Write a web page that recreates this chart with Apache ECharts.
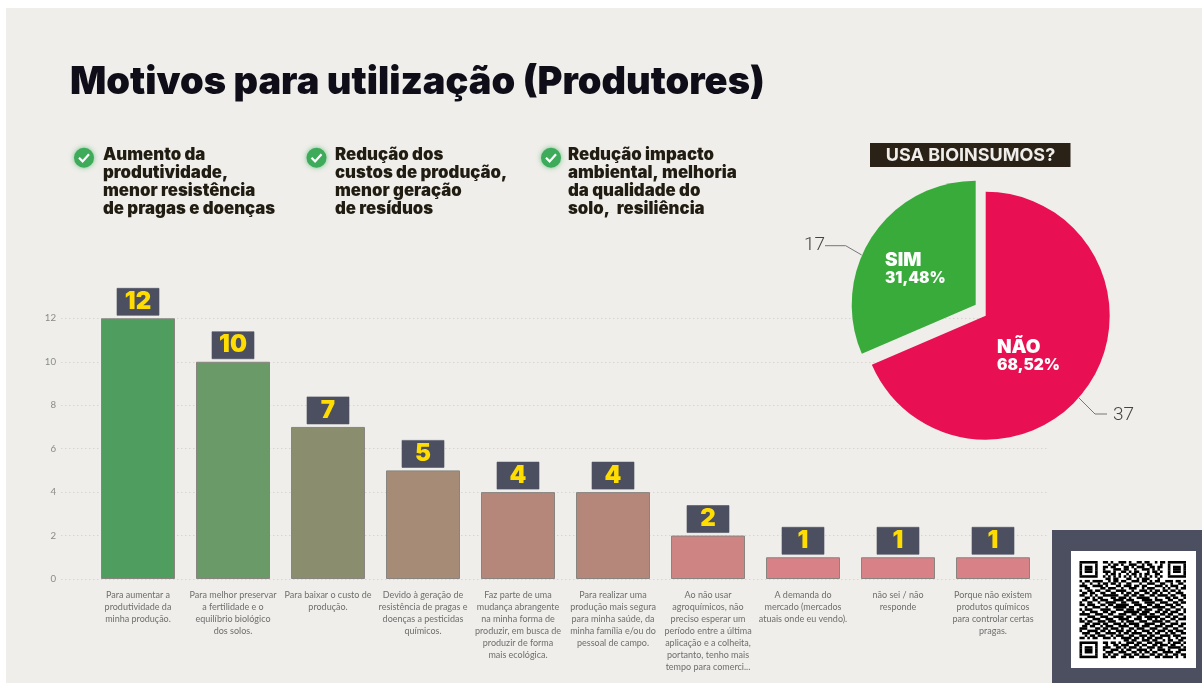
<!DOCTYPE html>
<html>
<head>
<meta charset="utf-8">
<style>html,body{margin:0;padding:0;background:#fff}#c{width:1202px;height:683px}</style>
<script src="https://cdn.jsdelivr.net/npm/echarts@6/dist/echarts.min.js"></script>
</head>
<body>
<div id="c"></div>
<script>
const titleText = 'Motivos para utilização (Produtores)';
const bulletTexts = [
  'Aumento da\nprodutividade,\nmenor resistência\nde pragas e doenças',
  'Redução dos\ncustos de produção,\nmenor geração\nde resíduos',
  'Redução impacto\nambiental, melhoria\nda qualidade do\nsolo,  resiliência'
];
const categories = [
  'Para aumentar a\nprodutividade da\nminha produção.',
  'Para melhor preservar\na fertilidade e o\nequilíbrio biológico\ndos solos.',
  'Para baixar o custo de\nprodução.',
  'Devido à geração de\nresistência de pragas e\ndoenças a pesticidas\nquímicos.',
  'Faz parte de uma\nmudança abrangente\nna minha forma de\nproduzir, em busca de\nproduzir de forma\nmais ecológica.',
  'Para realizar uma\nprodução mais segura\npara minha saúde, da\nminha família e/ou do\npessoal de campo.',
  'Ao não usar\nagroquímicos, não\npreciso esperar um\nperíodo entre a última\naplicação e a colheita,\nportanto, tenho mais\ntempo para comerci...',
  'A demanda do\nmercado (mercados\natuais onde eu vendo).',
  'não sei / não\nresponde',
  'Porque não existem\nprodutos químicos\npara controlar certas\npragas.'
];
const counts = [12, 10, 7, 5, 4, 4, 2, 1, 1, 1];
const barColors = ['#4F9E60','#6B9A69','#8B8E6E','#A68C76','#B5877A','#B5877A','#CD8483','#D88288','#D88288','#D88288'];
const yTicks = [0, 2, 4, 6, 8, 10, 12];
const pieNames = ['NÃO', 'SIM'];
const pieValues = [37, 17];
const piePercents = ['68,52%', '31,48%'];
const pieColors = ['#E81052', '#38AB3A'];
const pieTitle = 'USA BIOINSUMOS?';

const qrTop = [
 '0110100111010011011001011',
 '0001011010011100101100010',
 '0110110001101011100110110',
 '0100011101100100111010100',
 '0111010011010110001011010',
 '0010110100101101011001100',
 '0101010101010101010101010',
 '0011011000110010111000100'
];
const qrMiddle = [
 '10110111100101101100111011010110011101101',
 '01001001011011010011000100111001100100110',
 '11100111101000110111011011000111010111001',
 '00110000110111001001110010111000101001011',
 '10011011001100111100100111010110110110100',
 '01101100110011001011011001101101001001110',
 '11001010011111100110110110011011110110011',
 '00110101100011011101001111100100011011001',
 '01100110111001111011100011110111001100110',
 '10011001001111001100111001111001110011011',
 '11011100110110111110011100110110011101100',
 '00100111001001111101100111001111100110010',
 '10111000111100111011101101110011011001101',
 '01001110011011000111111011100110110111001',
 '11110011100110011100110111011001101100110',
 '00011100111001111011001101111110011011001',
 '10100111001110011110011100110101100110111',
 '11011001110111001011100111001111011001000',
 '00110111011001110101111001111001100111011',
 '01101100101110011110011011100111011100110',
 '11100011011011101001101110011100110011001',
 '10011110110100111011010011101011101101110',
 '01110011001111010110111100110110010110011',
 '00101101110010111001100111011001111011100',
 '11010110011101001111011010110111001001011'
];
const qrBottom = [
 '0000000001101100111011001011001101',
 '0110110100111011001101110010111010',
 '0010011011100110110011011101100101',
 '0111001101011101001110110011111011',
 '0100111010110011110100111010001110',
 '0011100111001101011011001111011001',
 '0101011001110110100110110100110110',
 '0110110011011001111001101111010011'
];
const finder = ['1111111','1000001','1011101','1011101','1011101','1000001','1111111','0000000'];
const qrRows = [];
for (let i = 0; i < 8; i++) qrRows.push(finder[i] + '0' + qrTop[i] + '0' + finder[i]);
qrMiddle.forEach(r => qrRows.push(r));
for (let i = 0; i < 8; i++) qrRows.push(finder[7 - i] + '0' + qrBottom[i]);

function qrChildren(x0, y0, w, h) {
  const mw = w / 41, mh = h / 41, out = [];
  qrRows.forEach((row, r) => {
    let c = 0;
    while (c < 41) {
      if (row[c] === '1') {
        let e = c;
        while (e + 1 < 41 && row[e + 1] === '1') e++;
        out.push({type:'rect', silent:true, z:22, shape:{x:x0 + c * mw, y:y0 + r * mh, width:(e - c + 1) * mw, height:mh + 0.2}, style:{fill:'#000'}});
        c = e + 1;
      } else c++;
    }
  });
  return out;
}

const headingFont = 'Inter';
const bullets = [[84, 103], [316.5, 335], [551, 568]];
const graphics = [
  {type:'rect', z:-10, silent:true, shape:{x:6, y:8, width:1196, height:675}, style:{fill:'#EFEEEA'}},
  {type:'text', z:10, silent:true, x:70, y:83, style:{text:titleText, fill:'#0E0D18', font:'900 38px ' + headingFont, verticalAlign:'middle'}}
];
bullets.forEach((b, i) => {
  graphics.push({type:'circle', z:10, silent:true, shape:{cx:b[0], cy:157.7, r:10}, style:{fill:'#3DAB5A', shadowBlur:5, shadowColor:'rgba(60,170,90,0.7)'}});
  graphics.push({type:'polyline', z:10, silent:true, shape:{points:[[b[0]-5,157.8],[b[0]-1.4,161.4],[b[0]+5,154.2]]}, style:{stroke:'#fff', lineWidth:2.2, fill:null}});
  graphics.push({type:'text', z:10, silent:true, x:b[1], y:145.5, style:{text:bulletTexts[i], fill:'#211C12', font:'900 16.8px ' + headingFont, lineHeight:18, verticalAlign:'top'}});
});
graphics.push(
  {type:'rect', z:10, silent:true, shape:{x:870, y:143, width:200.5, height:24}, style:{fill:'#2A2117'}},
  {type:'text', z:11, silent:true, x:970.5, y:155.5, style:{text:pieTitle, fill:'#EFEEEA', font:'700 18px ' + headingFont, align:'center', verticalAlign:'middle'}},
  {type:'polyline', z:10, silent:true, shape:{points:[[825,245.7],[845.7,245.7],[861.7,255]]}, style:{stroke:'#777', lineWidth:1, fill:null}},
  {type:'polyline', z:10, silent:true, shape:{points:[[1079,398],[1095,414],[1107,414]]}, style:{stroke:'#777', lineWidth:1, fill:null}},
  {type:'rect', z:20, silent:true, shape:{x:1052, y:530, width:150, height:153}, style:{fill:'#4B4F60'}},
  {type:'rect', z:21, silent:true, shape:{x:1071, y:551, width:125, height:117}, style:{fill:'#fff'}},
  {type:'group', z:22, silent:true, children:qrChildren(1079.5, 561, 106.5, 97)}
);

const piePlace = [[997, 356], [885, 269]];
const pieCenters = [[985.7, 315.7], [975.7, 304.7]];
const valuePlace = [[1113, 415], [804, 245]];

function sliceSeries(idx) {
  return {
    type:'pie', z:5, center:pieCenters[idx], radius:[0, 124], startAngle:90, silent:true,
    animation:false, avoidLabelOverlap:false,
    labelLine:{show:false},
    labelLayout:() => ({x:piePlace[idx][0], y:piePlace[idx][1], align:'left', verticalAlign:'middle'}),
    data: pieValues.map((v, i) => ({
      name:pieNames[i], value:v,
      itemStyle:{color: i === idx ? pieColors[i] : 'rgba(0,0,0,0)'},
      label: i === idx ? {
        show:true, position:'inside',
        formatter:'{a|' + pieNames[i] + '}\n{b|' + piePercents[i] + '}',
        rich:{
          a:{fontFamily:headingFont, fontWeight:900, fontSize:19, color:'#fff', lineHeight:18, align:'left'},
          b:{fontFamily:headingFont, fontWeight:900, fontSize:15.5, color:'#fff', lineHeight:17, align:'left'}
        }
      } : {show:false}
    }))
  };
}

const option = {
  backgroundColor:'#fff',
  animation:false,
  graphic:{elements:graphics},
  grid:[
    {left:90.5, top:318.3, width:950, height:260.7},
    {left:61, top:318.3, width:987, height:260.7}
  ],
  xAxis:[
    {type:'category', gridIndex:0, data:categories,
     axisLine:{show:false}, axisTick:{show:false},
     axisLabel:{interval:0, margin:10, fontFamily:'Lato', fontSize:9, lineHeight:12, color:'#6E6E6E', align:'center', verticalAlign:'top'}},
    {type:'category', gridIndex:1, show:false, data:categories}
  ],
  yAxis:[
    {type:'value', gridIndex:0, min:0, max:12, interval:2, show:false},
    {type:'value', gridIndex:1, min:yTicks[0], max:yTicks[yTicks.length - 1], interval:2, position:'left',
     axisLine:{show:false}, axisTick:{show:false},
     axisLabel:{margin:5, fontFamily:'Lato', fontSize:9.7, color:'#8A8A8A'},
     splitLine:{show:true, lineStyle:{type:[1.5, 2.5], color:'#D6D6D1', width:1}}}
  ],
  series:[
    {type:'bar', xAxisIndex:0, yAxisIndex:0, z:3, barWidth:74, silent:true,
     data:counts.map((v, i) => ({value:v, itemStyle:{color:barColors[i], borderColor:'#888580', borderWidth:1}})),
     label:{show:true, position:'top', distance:3, formatter:'{c}', width:42, height:27, lineHeight:27, align:'center', verticalAlign:'bottom',
       backgroundColor:'#4B4F60', borderColor:'#8A8C96', borderWidth:0.5,
       color:'#FFDD00', fontFamily:headingFont, fontWeight:900, fontSize:24}},
    sliceSeries(0),
    sliceSeries(1),
    {type:'pie', z:6, center:pieCenters[0], radius:[0, 124], startAngle:90, silent:true, animation:false, avoidLabelOverlap:false,
     itemStyle:{color:'rgba(0,0,0,0)'},
     labelLine:{show:false},
     labelLayout:p => ({x:valuePlace[p.dataIndex][0], y:valuePlace[p.dataIndex][1], align:'left', verticalAlign:'middle'}),
     label:{show:true, position:'outside', formatter:'{c}', fontFamily:'Roboto', fontWeight:300, fontSize:19, color:'#444'},
     data:pieValues.map((v, i) => ({name:pieNames[i], value:v}))}
  ]
};
const chart = echarts.init(document.getElementById('c'), null, {renderer:'canvas', width:1202, height:683});
chart.setOption(option);
</script>
</body>
</html>
